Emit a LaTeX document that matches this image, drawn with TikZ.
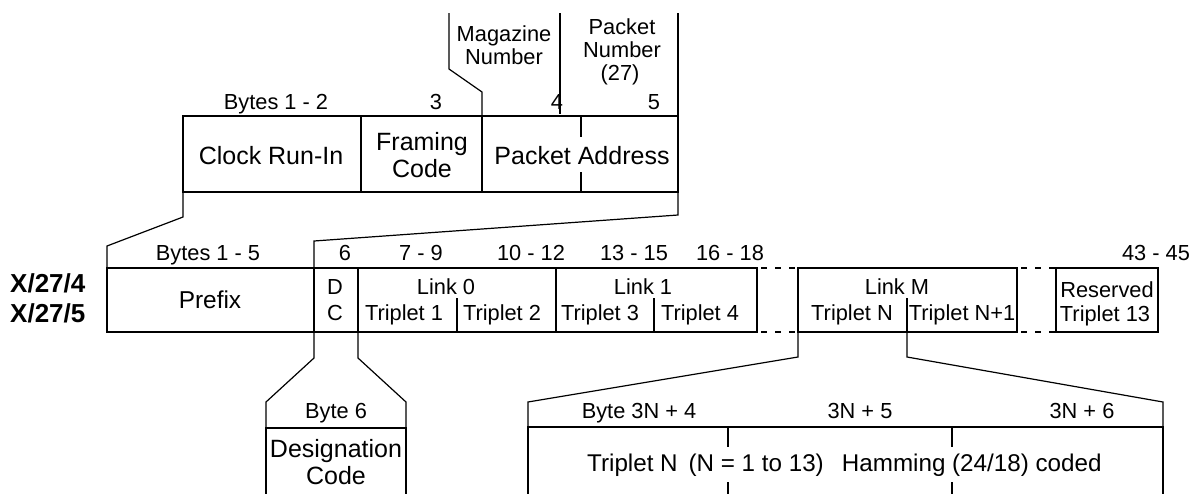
\documentclass[tikz,border=0pt]{standalone}
\usepackage{fontspec}
\setmainfont{Liberation Sans}
\begin{document}
\begin{tikzpicture}[x=1pt,y=-1pt,
  box/.style={draw=black, line width=2.2pt},
  thinln/.style={draw=black, line width=1.2pt},
  dashln/.style={draw=black, line width=2.2pt, dash pattern=on 6pt off 8pt, dash phase=-4pt},
  lbl/.style={inner sep=0pt, anchor=base, font=\fontsize{21.8}{24}\selectfont},
  txt/.style={inner sep=0pt, anchor=base, font=\fontsize{21.8}{24}\selectfont},
  bigtxt/.style={inner sep=0pt, anchor=base, font=\fontsize{25}{28}\selectfont},
  boldtxt/.style={inner sep=0pt, anchor=base west, font=\fontsize{26}{28}\selectfont\bfseries}]
\fill[white] (0,0) rectangle (1198,493);
\useasboundingbox (0,0) rectangle (1198,493);

% ---------- top packet ----------
\coordinate (tl) at (183,116);
\coordinate (br) at (678,192);
\draw[box] (tl) rectangle (br);
\draw[box] (361,116) -- (361,192);
\draw[box] (482,116) -- (482,192);
\draw[box] (581,116) -- (581,137);
\draw[box] (581,172) -- (581,192);

\draw[thinln] (449,13) -- (449,69) -- (482,92) -- (482,116);
\draw[thinln] (560,13) -- (560,114);
\draw[thinln] (678,13) -- (678,116);

\node[lbl] (b12) at (276,109) {Bytes 1 - 2};
\node[lbl] (b3) at (436,109) {3};
\node[lbl] (b4) at (557,109) {4};
\node[lbl] (b5) at (654,109) {5};
\node[lbl] (mag1) at (504,41) {Magazine};
\node[lbl] (mag2) at (504,64) {Number};
\node[lbl] (pn1) at (622,34) {Packet};
\node[lbl] (pn2) at (622,57) {Number};
\node[lbl] (pn3) at (620,80) {(27)};

\node[bigtxt] (cri) at (271,164) {Clock Run-In};
\node[bigtxt] (fc1) at (422,150) {Framing};
\node[bigtxt] (fc2) at (422,177) {Code};
\node[bigtxt] (pa) at (582,164) {Packet Address};

% ---------- brackets top -> row 2 ----------
\draw[thinln] (183,192) -- (183,217) -- (107,246) -- (107,268);
\draw[thinln] (678,192) -- (678,215) -- (314,241) -- (314,268);

% ---------- row 2 ----------
\draw[box] (107,268) rectangle (757,332);
\draw[box] (314,268) -- (314,332);
\draw[box] (358,268) -- (358,332);
\draw[box] (556,268) -- (556,332);
\draw[box] (457,298) -- (457,332);
\draw[box] (654,298) -- (654,332);
\draw[box] (798,268) rectangle (1017,332);
\draw[box] (907,298) -- (907,332);
\draw[box] (1056,268) rectangle (1158,332);
\draw[dashln] (757,268) -- (798,268);
\draw[dashln] (757,332) -- (798,332);
\draw[dashln] (1017,268) -- (1056,268);
\draw[dashln] (1017,332) -- (1056,332);

\node[lbl] (b15) at (208,260) {Bytes 1 - 5};
\node[lbl] (b6) at (345,260) {6};
\node[lbl] (b79) at (421,260) {7 - 9};
\node[lbl] (b1012) at (531,260) {10 - 12};
\node[lbl] (b1315) at (634,260) {13 - 15};
\node[lbl] (b1618) at (730,260) {16 - 18};
\node[lbl] (b4345) at (1156,260) {43 - 45};

\node[boldtxt] (x4) at (10,292) {X/27/4};
\node[boldtxt] (x5) at (10,322) {X/27/5};

\node[inner sep=0pt, anchor=base, font=\fontsize{24.4}{26}\selectfont] (pre) at (210,308) {Prefix};
\node[txt] (d) at (335,294) {D};
\node[txt] (c) at (335,320) {C};
\node[txt] (l0) at (446,294) {Link 0};
\node[txt] (t1) at (404,320) {Triplet 1};
\node[txt] (t2) at (502,320) {Triplet 2};
\node[txt] (l1) at (643,294) {Link 1};
\node[txt] (t3) at (600,320) {Triplet 3};
\node[txt] (t4) at (700,320) {Triplet 4};
\node[txt] (lm) at (897,294) {Link M};
\node[txt] (tn) at (852,320) {Triplet N};
\node[txt] (tn1) at (962,320) {Triplet N+1};
\node[txt] (res) at (1107,297) {Reserved};
\node[txt] (t13) at (1105,321) {Triplet 13};

% ---------- row 3: designation code ----------
\draw[thinln] (314,332) -- (314,358) -- (266,402) -- (266,428);
\draw[thinln] (358,332) -- (358,358) -- (406,402) -- (406,428);
\draw[box] (266,500) -- (266,428) -- (406,428) -- (406,500);
\node[lbl] (by6) at (336,418) {Byte 6};
\node[bigtxt] (dc1) at (336,457) {Designation};
\node[bigtxt] (dc2) at (336,484) {Code};

% ---------- row 3: triplet ----------
\draw[thinln] (798,332) -- (798,357) -- (528,402) -- (528,427);
\draw[thinln] (907,332) -- (907,357) -- (1163,402) -- (1163,427);
\draw[box] (528,500) -- (528,427) -- (1163,427) -- (1163,500);
\draw[box] (728,427) -- (728,447);
\draw[box] (728,482) -- (728,500);
\draw[box] (952,427) -- (952,447);
\draw[box] (952,482) -- (952,500);
\node[lbl] (by34) at (639,418) {Byte 3N + 4};
\node[lbl] (by35) at (860,418) {3N + 5};
\node[lbl] (by36) at (1082,418) {3N + 6};
\node[inner sep=0pt, anchor=base west, font=\fontsize{24.2}{26}\selectfont] (tmain) at (587,471)
  {Triplet N\hspace{0.45em}(N = 1 to 13)\hspace{0.75em}Hamming (24/18) coded};
\end{tikzpicture}
\end{document}
